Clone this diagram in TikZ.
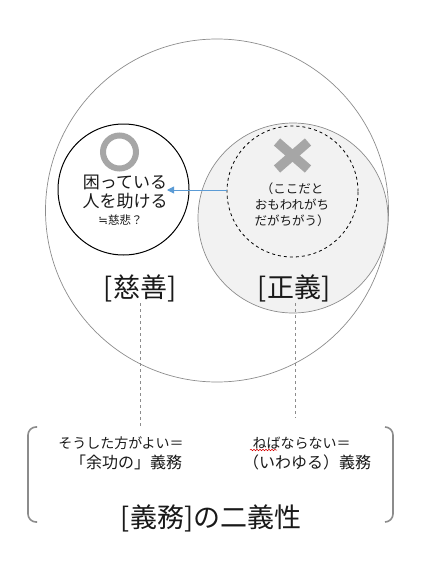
\documentclass[tikz,border=0pt]{standalone}
\usepackage{fontspec}
\setmainfont{Noto Sans CJK JP}
\newfontfamily\symfont{DejaVu Sans}
\usetikzlibrary{arrows.meta,decorations.pathmorphing}
\newcommand{\fs}[2]{\fontsize{#1}{#2}\selectfont}
\definecolor{ringgray}{HTML}{A6A6A6}
\definecolor{linegray}{HTML}{8C8C8C}
\definecolor{fillgray}{HTML}{F2F2F2}
\definecolor{arrowblue}{HTML}{5B9BD5}

\begin{document}
\begin{tikzpicture}[x=1pt, y=-1pt,
    ring/.style={draw, circle, inner sep=0pt},
    lbl/.style={inner sep=0pt, align=center, text=black!90},
    guide/.style={draw=linegray, dash pattern=on 3pt off 3pt, line width=0.6pt},
    brk/.style={draw=linegray, line width=1.6pt, rounded corners=8pt}]
    \useasboundingbox (0,0) rectangle (425,581);

    % Circles
    \node[ring, draw=linegray, line width=0.7pt, minimum size=343pt] (duty) at (217,210.5) {};
    \node[ring, draw=linegray, line width=0.7pt, fill=fillgray, minimum size=190pt] (justice) at (293,218) {};
    \node[ring, dashed, line width=0.8pt, minimum size=131pt] (seems) at (292.5,191.5) {};
    \node[ring, line width=1pt, minimum size=131pt] (charity) at (123.5,189.5) {};

    % Marks
    \node[ring, draw=ringgray, line width=6pt, minimum size=33pt] (good) at (119.5,152) {};
    \coordinate (bad) at (292.5,155.5);
    \draw[ringgray, line width=9.5pt] ([shift={(-15.5,-13.5)}]bad) -- ([shift={(15.5,13.5)}]bad);
    \draw[ringgray, line width=9.5pt] ([shift={(-15.5,13.5)}]bad) -- ([shift={(15.5,-13.5)}]bad);

    % Texts in the circles
    \node[lbl, font=\fs{17}{18.5}] (help) at (125,192) {困っている\\人を助ける};
    \node[lbl, font=\fs{11.5}{13}] (pity) at (120.5,220) {{\symfont ≒}慈悲？};
    \node[lbl, font=\fs{12.5}{16}] (misread) at (292,205) {（ここだと\\おもわれがち\\だがちがう）};
    \node[lbl, font=\fs{27}{30}] (jizen) at (140,288) {[慈善]};
    \node[lbl, font=\fs{27}{30}] (seigi) at (294,288) {[正義]};

    % Arrow
    \coordinate (tip) at (167,190);
    \draw[arrowblue, line width=0.9pt, -{Triangle[width=7pt,length=7pt]}] (seems.west |- tip) -- (tip);

    % Guides
    \coordinate (jizen-end) at (140,426);
    \coordinate (seigi-end) at (295,418);
    \draw[guide] (140,303) -- (jizen-end);
    \draw[guide] (295,303) -- (seigi-end);

    % Bracket
    \draw[brk] (37,427) -- (28,427) -- (28,522) -- (37,522);
    \draw[brk] (385,427) -- (393,427) -- (393,522) -- (385,522);

    % Bottom texts
    \node[lbl, font=\fs{14}{16}] (better) at (121,443) {そうした方がよい＝};
    \node[lbl, font=\fs{16}{18}] (extra) at (126,462) {「余功の」義務};
    \node[lbl, font=\fs{14}{16}] (must) at (301.5,443) {ねばならない＝};
    \node[lbl, font=\fs{16}{18}] (usual) at (307,462) {（いわゆる）義務};
    \draw[red!85!black, line width=0.5pt, decorate, decoration={snake, amplitude=0.8pt, segment length=3pt}] (250,450) -- (277,450);
    \node[lbl, font=\fs{27}{30}] (title) at (211,518) {[義務]の二義性};

\end{tikzpicture}
\end{document}
